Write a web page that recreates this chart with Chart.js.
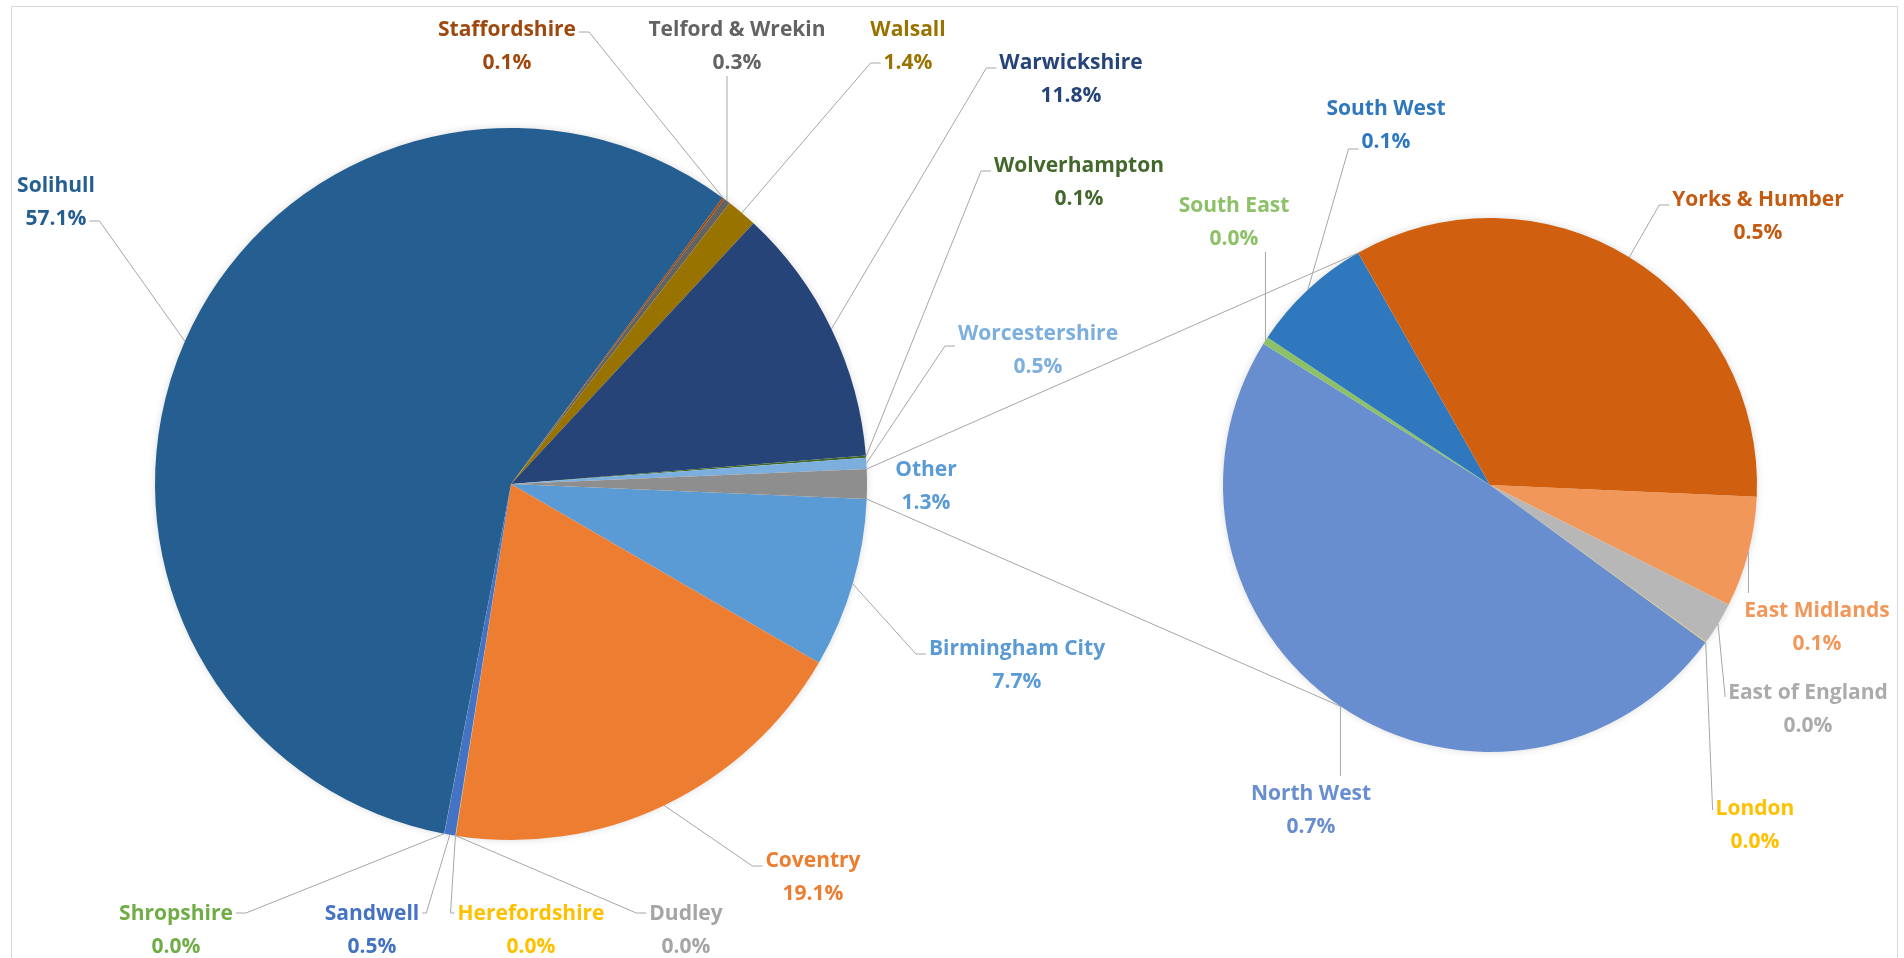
<!DOCTYPE html>
<html><head><meta charset="utf-8">
<script src="https://cdn.jsdelivr.net/npm/chart.js@4.4.1/dist/chart.umd.min.js"></script>
<style>
html,body{margin:0;padding:0;background:#fff;}
#wrap{position:relative;width:1904px;height:958px;overflow:hidden;background:#fff;}
#wrap canvas{position:absolute;left:0;top:0;}
#frame{position:absolute;left:11px;top:6px;width:1887px;height:990px;border:1px solid #D9D9D9;box-sizing:border-box;}
</style></head><body>
<div id="wrap"><div id="frame"></div><canvas id="mainPie" width="1904" height="958"></canvas><canvas id="secondPie" width="1904" height="958"></canvas></div>
<script>
// ---------- DATA ----------
const mainCategories = ['Birmingham City','Coventry','Dudley','Herefordshire','Sandwell','Shropshire','Solihull','Staffordshire','Telford & Wrekin','Walsall','Warwickshire','Wolverhampton','Worcestershire'];
const mainValues = [7.7, 19.1, 0.01, 0.01, 0.5, 0.01, 57.1, 0.1, 0.3, 1.4, 11.8, 0.1, 0.5];
const otherCategory = 'Other';
const secondCategories = ['East Midlands','East of England','London','North West','South East','South West','Yorks & Humber'];
const secondValues = [0.09, 0.035, 0.0005, 0.655, 0.006, 0.10, 0.455];

// ---------- STYLE ----------
const mainColors = ['#5B9BD5','#ED7D31','#A5A5A5','#FFC000','#4472C4','#70AD47','#255E91','#9E480E','#636363','#997300','#264478','#43682B','#7CAFDD'];
const otherColor = '#8E8E8E';
const otherTextColor = '#5B9BD5';
const secondColors = ['#F1975A','#B7B7B7','#FFCD33','#698ED0','#8CC168','#2F78BE','#D0600F'];
const secondTextColors = ['#F1975A','#ABABAB','#FFC000','#698ED0','#8CC168','#2F78BE','#C55A11'];
const FONT = 'bold 21px "Open Sans", "Noto Sans", sans-serif';
const LINE_GAP = 33;
const LEADER = '#A6A6A6';

// label layout (centre of first text line), leader attach side
const mainLabelLayout = {
  'Birmingham City': {x:1017, y:648, a:'L0'},
  'Coventry': {x:813, y:860, a:'L0'},
  'Dudley': {x:686, y:913, a:'L0', dy:0},
  'Herefordshire': {x:531, y:913, a:'L0', dy:0, tick:4},
  'Sandwell': {x:372, y:913, a:'R0', dy:0, tick:4},
  'Shropshire': {x:176, y:913, a:'R0', dy:0},
  'Solihull': {x:56, y:185, a:'R1', dy:3},
  'Staffordshire': {x:507, y:29, a:'R0', dy:3},
  'Telford & Wrekin': {x:737, y:29, a:'B'},
  'Walsall': {x:908, y:29, a:'L1', dy:1},
  'Warwickshire': {x:1071, y:62, a:'L0'},
  'Wolverhampton': {x:1079, y:165, a:'L0'},
  'Worcestershire': {x:1038, y:333, a:'L0', dy:13},
  'Other': {x:926, y:469, a:null}
};
const secondLabelLayout = {
  'East Midlands': {x:1817, y:610, a:'T'},
  'East of England': {x:1808, y:692, a:'L0', tick:0, dy:5},
  'London': {x:1755, y:808, a:'L0', tick:0, dy:2},
  'North West': {x:1311, y:793, a:'T'},
  'South East': {x:1234, y:205, a:'B'},
  'South West': {x:1386, y:108, a:'L1', dy:8},
  'Yorks & Humber': {x:1758, y:199, a:'L0'}
};
const connectorAngles = [330.2, 213.9]; // on the secondary pie, degrees clockwise from top
const secondRotation = 92.5;

const otherValue = secondValues.reduce((s, v) => s + v, 0);
const grandTotal = mainValues.reduce((s, v) => s + v, 0) + otherValue;
const pct = v => (v / grandTotal * 100).toFixed(1) + '%';

function drawLabels(chart, cats, vals, layout, textColors) {
  const ctx = chart.ctx;
  const meta = chart.getDatasetMeta(0);
  ctx.save();
  ctx.font = FONT;
  cats.forEach((cat, i) => {
    const L = layout[cat];
    if (!L) return;
    const arc = meta.data[i];
    const mid = (arc.startAngle + arc.endAngle) / 2;
    const rim = {x: arc.x + arc.outerRadius * Math.cos(mid), y: arc.y + arc.outerRadius * Math.sin(mid)};
    const t0 = cat, t1 = pct(vals[i]);
    const w0 = ctx.measureText(t0).width, w1 = ctx.measureText(t1).width;
    const dy = L.dy !== undefined ? L.dy : 6;
    const tick = L.tick !== undefined ? L.tick : 10;
    let pts = null;
    if (L.a === 'L0' || L.a === 'L1') {
      const w = L.a === 'L0' ? w0 : w1;
      const yy = (L.a === 'L0' ? L.y : L.y + LINE_GAP) + dy;
      const ax = L.x - w / 2 - 3;
      pts = [[ax, yy], [ax - tick, yy], [rim.x, rim.y]];
    } else if (L.a === 'R0' || L.a === 'R1') {
      const w = L.a === 'R0' ? w0 : w1;
      const yy = (L.a === 'R0' ? L.y : L.y + LINE_GAP) + dy;
      const ax = L.x + w / 2 + 3;
      pts = [[ax, yy], [ax + tick, yy], [rim.x, rim.y]];
    } else if (L.a === 'B') {
      pts = [[rim.x, L.y + LINE_GAP + 14], [rim.x, rim.y]];
    } else if (L.a === 'T') {
      pts = [[rim.x, L.y - 17], [rim.x, rim.y]];
    }
    if (pts) {
      ctx.strokeStyle = LEADER; ctx.lineWidth = 1;
      ctx.beginPath();
      ctx.moveTo(pts[0][0], pts[0][1]);
      for (let k = 1; k < pts.length; k++) ctx.lineTo(pts[k][0], pts[k][1]);
      ctx.stroke();
    }
    ctx.fillStyle = textColors[i];
    ctx.textAlign = 'center';
    ctx.textBaseline = 'alphabetic';
    ctx.fillText(t0, L.x, L.y + 7);
    ctx.fillText(t1, L.x, L.y + LINE_GAP + 7);
  });
  ctx.restore();
}

// soft shadow disc under each pie
const softShadow = {
  id: 'softShadow',
  beforeDatasetsDraw(chart) {
    const arc = chart.getDatasetMeta(0).data[0];
    if (!arc) return;
    const ctx = chart.ctx;
    ctx.save();
    ctx.shadowColor = 'rgba(0,0,0,0.18)';
    ctx.shadowBlur = 8;
    ctx.fillStyle = '#ffffff';
    ctx.beginPath();
    ctx.arc(arc.x, arc.y, arc.outerRadius - 1, 0, Math.PI * 2);
    ctx.fill();
    ctx.restore();
  }
};

let mainChart = null;

function build() {
  const mainCats = [...mainCategories, otherCategory];
  const mainVals = [...mainValues, otherValue];
  const mainBg = [...mainColors, otherColor];
  const mainText = [...mainColors, otherTextColor];
  const otherDeg = otherValue / grandTotal * 360;

  mainChart = new Chart(document.getElementById('mainPie'), {
    type: 'pie',
    data: {labels: mainCats, datasets: [{data: mainVals, backgroundColor: mainBg, borderWidth: 0}]},
    options: {
      responsive: false, animation: false, events: [],
      rotation: 90 + otherDeg / 2,
      layout: {padding: {left: 155, right: 1904 - 867, top: 128, bottom: 958 - 840}},
      plugins: {legend: {display: false}, tooltip: {enabled: false}, title: {display: false}}
    },
    plugins: [softShadow, {id: 'mainLabels', afterDraw(chart) { drawLabels(chart, mainCats, mainVals, mainLabelLayout, mainText); }}]
  });

  new Chart(document.getElementById('secondPie'), {
    type: 'pie',
    data: {labels: secondCategories, datasets: [{data: secondValues, backgroundColor: secondColors, borderWidth: 0}]},
    options: {
      responsive: false, animation: false, events: [],
      rotation: secondRotation,
      layout: {padding: {left: 1223, right: 1904 - 1757, top: 218, bottom: 958 - 752}},
      plugins: {legend: {display: false}, tooltip: {enabled: false}, title: {display: false}}
    },
    plugins: [softShadow, {id: 'secondLabels', afterDraw(chart) {
      const ctx = chart.ctx;
      const mMeta = mainChart.getDatasetMeta(0);
      const oArc = mMeta.data[mMeta.data.length - 1];
      const sArc = chart.getDatasetMeta(0).data[0];
      const ends = [oArc.startAngle, oArc.endAngle].map(a => ({x: oArc.x + oArc.outerRadius * Math.cos(a), y: oArc.y + oArc.outerRadius * Math.sin(a)}));
      const targets = connectorAngles.map(d => { const a = (d - 90) * Math.PI / 180; return {x: sArc.x + sArc.outerRadius * Math.cos(a), y: sArc.y + sArc.outerRadius * Math.sin(a)}; });
      ctx.save();
      ctx.strokeStyle = LEADER; ctx.lineWidth = 1;
      for (let k = 0; k < 2; k++) {
        ctx.beginPath(); ctx.moveTo(ends[k].x, ends[k].y); ctx.lineTo(targets[k].x, targets[k].y); ctx.stroke();
      }
      ctx.restore();
      drawLabels(chart, secondCategories, secondValues, secondLabelLayout, secondTextColors);
    }}]
  });
}

if (document.fonts && document.fonts.load) {
  document.fonts.load(FONT).then(build, build);
} else { build(); }
</script>
</body></html>
